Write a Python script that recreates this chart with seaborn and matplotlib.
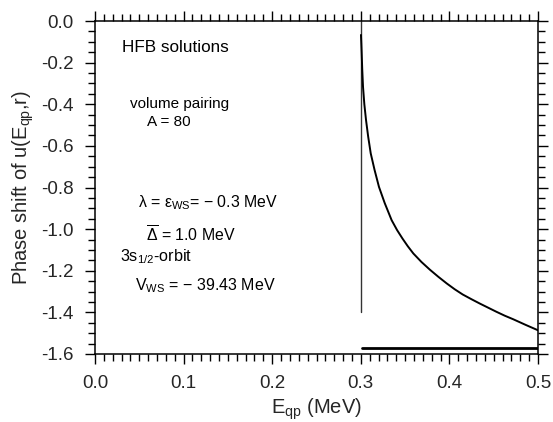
import matplotlib
matplotlib.use("Agg")
import matplotlib.pyplot as plt
import seaborn as sns
import pandas as pd
from matplotlib.ticker import MultipleLocator

# Data
curve_e = [0.3002, 0.3006, 0.3010, 0.3016, 0.3025, 0.3040, 0.3059, 0.3083,
           0.3112, 0.3155, 0.3205, 0.3270, 0.3348, 0.3410, 0.3470, 0.3530,
           0.3593, 0.3685, 0.3780, 0.3875, 0.3970, 0.4060, 0.4150, 0.4250,
           0.4345, 0.4440, 0.4530, 0.4625, 0.4720, 0.4860, 0.5000]
curve_phase = [-0.067, -0.110, -0.155, -0.230, -0.316, -0.400, -0.476, -0.555,
               -0.636, -0.715, -0.797, -0.875, -0.957, -1.005, -1.045, -1.082,
               -1.117, -1.158, -1.195, -1.229, -1.261, -1.289, -1.314, -1.337,
               -1.358, -1.378, -1.397, -1.416, -1.433, -1.460, -1.486]
vline_e = [0.3, 0.3]
vline_phase = [0.0, -1.4]
hline_e = [0.301, 0.5]
hline_phase = [-1.57, -1.57]

x_ticks = [0.0, 0.1, 0.2, 0.3, 0.4, 0.5]
y_ticks = [0.0, -0.2, -0.4, -0.6, -0.8, -1.0, -1.2, -1.4, -1.6]

sns.set_style("ticks")
plt.rcParams["font.family"] = ["Liberation Sans", "DejaVu Sans"]
plt.rcParams["mathtext.fontset"] = "custom"
plt.rcParams["mathtext.rm"] = "Liberation Sans"
plt.rcParams["mathtext.it"] = "Liberation Sans"
plt.rcParams["mathtext.sf"] = "Liberation Sans"

fig = plt.figure(figsize=(5.53, 4.22), dpi=100)
ax = fig.add_axes([95 / 553, 68 / 422, 443 / 553, 333 / 422])

df_curve = pd.DataFrame({"E": curve_e, "phase": curve_phase})
df_v = pd.DataFrame({"E": vline_e, "phase": vline_phase})
df_h = pd.DataFrame({"E": hline_e, "phase": hline_phase})

sns.lineplot(data=df_v, x="E", y="phase", ax=ax, color="#333333", lw=1.0,
             sort=False, estimator=None)
sns.lineplot(data=df_curve, x="E", y="phase", ax=ax, color="black", lw=1.4,
             sort=False, estimator=None)
sns.lineplot(data=df_h, x="E", y="phase", ax=ax, color="black", lw=2.0,
             sort=False, estimator=None)

ax.set_xlim(0.0, 0.5)
ax.set_ylim(-1.6, 0.0)
ax.set_xticks(x_ticks)
ax.set_yticks(y_ticks)
ax.set_xticklabels([f"{v:.1f}" for v in x_ticks])
ax.set_yticklabels([f"{v:.1f}" if v != 0 else "0.0" for v in y_ticks])
ax.xaxis.set_minor_locator(MultipleLocator(0.01))
ax.yaxis.set_minor_locator(MultipleLocator(0.05))
ax.tick_params(which="both", direction="out", top=True, right=True,
               labeltop=False, labelright=False, color="black", width=1.0)
ax.tick_params(which="major", length=7.2, labelsize=13.5, pad=8)
ax.tick_params(which="minor", length=4.7)
for s in ax.spines.values():
    s.set_visible(True)
    s.set_linewidth(1.1)
    s.set_color("black")

ax.set_xlabel("E$_{\\mathrm{qp}}$ (MeV)", fontsize=14.5, labelpad=3)
ax.set_ylabel("Phase shift of u(E$_{\\mathrm{qp}}$,r)", fontsize=14.5, labelpad=4)

tk = dict(ha="left", va="center", color="black")
ax.text(0.030, -0.128, "HFB solutions", fontsize=12.3, **tk)
ax.text(0.039, -0.40, "volume pairing", fontsize=11, **tk)
ax.text(0.0585, -0.485, "A = 80", fontsize=11, **tk)
ax.text(0.0485, -0.875, "λ = ε$_{\\mathrm{WS}}$= − 0.3 MeV", fontsize=11.4, **tk)
ax.text(0.058, -1.03, "$\\overline{\\Delta}$ = 1.0 MeV", fontsize=11.4, **tk)
ax.text(0.028, -1.13, "3s$_{\\mathrm{1/2}}$-orbit", fontsize=11.6, **tk)
ax.text(0.045, -1.27, "V$_{\\mathrm{WS}}$ = − 39.43 MeV", fontsize=11.5, **tk)

fig.savefig("out.png", dpi=100)
